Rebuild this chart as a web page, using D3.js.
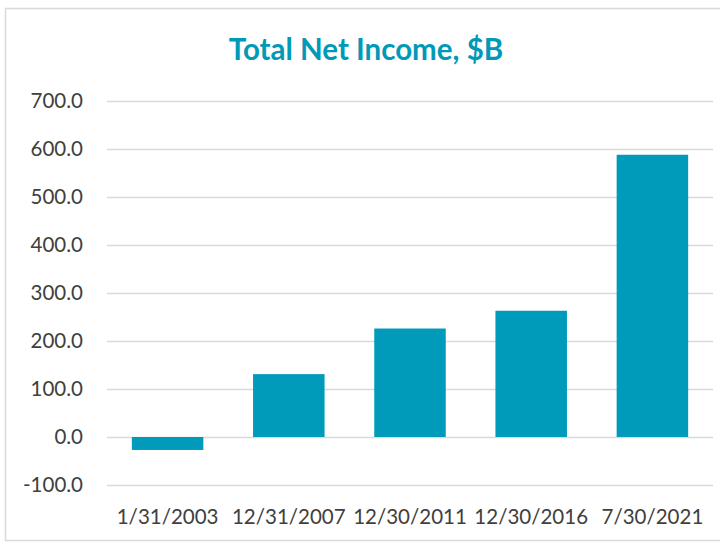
<!DOCTYPE html>
<html><head><meta charset="utf-8">
<script src="https://cdn.jsdelivr.net/npm/d3@7"></script>
<style>body{margin:0;background:#fff;}svg{display:block;}</style>
</head><body><div id="chart"></div>
<script>
const categories = ["1/31/2003", "12/31/2007", "12/30/2011", "12/30/2016", "7/30/2021"];
const values = [-27, 131, 226, 263, 588];
const yTicks = [-100, 0, 100, 200, 300, 400, 500, 600, 700];
const title = "Total Net Income, $B";

const W = 720, H = 542;
const svg = d3.select("#chart").append("svg").attr("width", W).attr("height", H);
svg.append("rect").attr("x", 5.5).attr("y", 8.5).attr("width", 730).attr("height", 532)
  .attr("fill", "#fff").attr("stroke", "#d9d9d9").attr("stroke-width", 1.5);

const left = 107, right = 713;
const x = d3.scaleBand().domain(categories).range([left, right]).paddingInner(0.41).paddingOuter(0.205);
const y = d3.scaleLinear().domain([-100, 700]).range([485, 101]);

const font = "Lato, 'Open Sans', sans-serif";
svg.append("text").attr("x", 366).attr("y", 60).attr("text-anchor", "middle")
  .attr("font-family", font).attr("font-weight", "bold").attr("font-size", 29.5)
  .attr("fill", "#0099b8").text(title);

const fmt = d => d3.format(".1f")(d).replace("\u2212", "-");
const yAxis = d3.axisLeft(y).tickValues(yTicks).tickFormat(fmt).tickSize(-(right - left)).tickPadding(24);
const gy = svg.append("g").attr("transform", `translate(${left},0)`).call(yAxis);
gy.select(".domain").remove();
gy.selectAll(".tick line").attr("stroke", "#d9d9d9").attr("stroke-width", 1.5);
gy.selectAll(".tick text").attr("font-family", font).attr("font-size", 20.5).attr("fill", "#404040");

svg.append("g").selectAll("rect").data(values).join("rect")
  .attr("x", (d, i) => x(categories[i]))
  .attr("width", x.bandwidth())
  .attr("y", d => y(Math.max(0, d)))
  .attr("height", d => Math.abs(y(d) - y(0)))
  .attr("fill", "#009bba");

const xAxis = d3.axisBottom(x).tickSize(0).tickPadding(0);
const gx = svg.append("g").attr("transform", `translate(0,${509})`).call(xAxis);
gx.select(".domain").remove();
gx.selectAll(".tick text").attr("font-family", font).attr("font-size", 20.5).attr("fill", "#404040");
</script></body></html>
